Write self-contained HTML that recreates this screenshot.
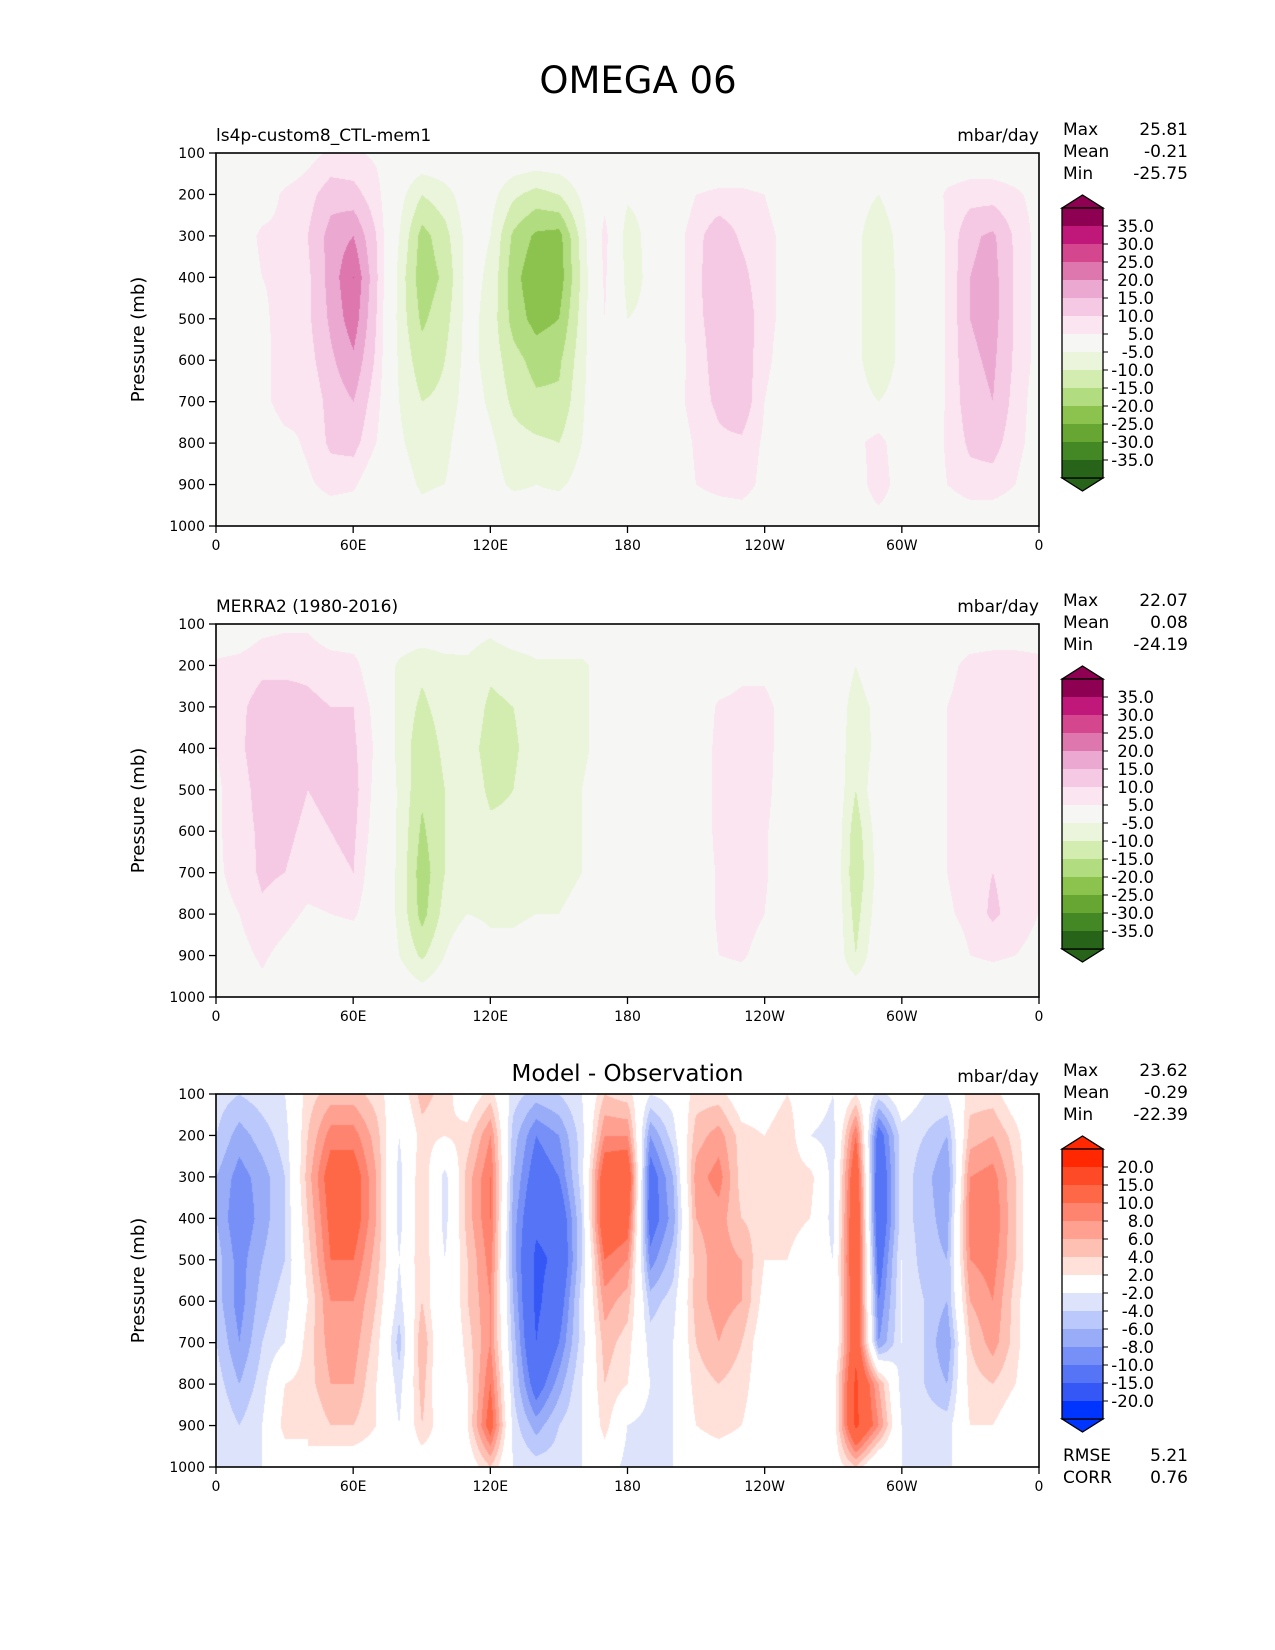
<!DOCTYPE html>
<html><head><meta charset="utf-8"><style>
html,body{margin:0;padding:0;background:#fff;}
#wrap{position:relative;width:1275px;height:1650px;overflow:hidden;}
canvas{position:absolute;}
svg{position:absolute;left:0;top:0;}
text{font-family:"DejaVu Sans","Liberation Sans",sans-serif;fill:#000;}
</style></head><body>
<div id="wrap">
<canvas id="c0" width="823" height="373" style="left:216px;top:153px"></canvas>
<canvas id="c1" width="823" height="373" style="left:216px;top:624px"></canvas>
<canvas id="c2" width="823" height="373" style="left:216px;top:1094px"></canvas>
<svg id="s" width="1275" height="1650">
<text x="638" y="93" font-size="37" text-anchor="middle">OMEGA 06</text>
</svg>
</div>
<script>
const pressures=[100,200,300,400,500,600,700,800,900,1000];
const lonTicks=["0","60E","120E","180","120W","60W","0"];
const presTicks=[100,200,300,400,500,600,700,800,900,1000];
const levelsAbs=[35,30,25,20,15,10,5,-5,-10,-15,-20,-25,-30,-35];
const levelsDiff=[20,15,10,8,6,4,2,-2,-4,-6,-8,-10,-15,-20];
const colorsAbs=['#8e0152','#c0187a','#d4478f','#de77ae','#eba9d2','#f5c9e3','#fae5f0','#f6f6f4','#eaf5dc','#d3edb0','#b2dc80','#8bc34e','#68a633','#448826','#276419'];
const colorsDiff=['#ff2800','#ff4a28','#ff6847','#ff8470','#ffa090','#ffc0b4','#ffe1da','#ffffff','#dde3fb','#bac8fb','#98acf8','#7690f7','#5574f6','#3457f6','#0035ff'];
const statsModel=[["Max","25.81"],["Mean","-0.21"],["Min","-25.75"]];
const statsObs=[["Max","22.07"],["Mean","0.08"],["Min","-24.19"]];
const statsDiff=[["Max","23.62"],["Mean","-0.29"],["Min","-22.39"]];
const metricsDiff=[["RMSE","5.21"],["CORR","0.76"]];
const model=[
[0,0,0,0,3,6,6,4,0,0,0,0,0,0,0,0,0,0,0,0,0,0,0,0,0,0,0,0,0,0,0,0,0,0,0,0,0],
[0,0,2,6,8,13,12,7,-3,-10,-7,-2,-3,-9,-12,-10,-4,3,-4,-3,0,5,6,6,5,3,0,-3,-2,-5,0,0,6,8,8,6,3],
[0,2,6,6,10,17,20,10,-5,-17,-12,-3,-5,-16,-21,-22,-8,7,-8,-3,2,8,14,9,6,4,0,-4,-3,-10,-2,-3,6,14,16,9,3],
[0,2,5,6,9,17,25,11,-7,-18,-14,-3,-6,-18,-24,-23,-9,6,-7,-4,1,9,13,12,6,4,0,-3,-3,-10,-3,-3,6,15,17,9,3],
[0,2,4,7,9,16,23,10,-7,-16,-12,-3,-7,-17,-22,-20,-8,5,-5,-4,1,9,12,15,6,4,0,-3,-3,-10,-3,-3,6,15,17,9,3],
[0,1,3,8,8,14,19,9,-6,-13,-10,-3,-7,-13,-17,-16,-7,3,-3,-4,1,8,12,14,6,3,0,-2,-3,-10,-3,-4,6,14,16,9,3],
[0,-3,3,8,6,12,15,7,-5,-10,-9,-2,-6,-11,-14,-14,-6,2,0,0,2,8,11,14,5,2,0,2,-2,-5,-2,-3,6,13,15,8,2],
[0,0,0,3,6,11,12,5,-4,-8,-7,0,-4,-8,-9,-10,-5,1,0,0,0,6,9,9,4,0,0,3,3,8,-1,-1,6,11,12,7,2],
[0,0,0,2,4,7,6,0,-2,-6,-5,0,-3,-6,-5,-6,-3,0,0,0,0,5,7,8,3,0,0,0,0,10,0,0,5,8,8,5,0],
[0,0,0,-3,0,0,0,0,0,-2,0,0,0,0,-2,0,0,0,0,0,0,0,0,0,0,0,0,0,0,0,0,0,0,0,0,0,0]];
const obs=[
[0,0,3,4,4,0,0,0,0,0,0,-2,-3,0,0,0,0,0,0,0,0,0,0,0,0,0,0,0,0,0,0,0,0,0,0,0,0],
[6,7,9,9,9,8,7,0,-6,-9,-7,-6,-9,-8,-6,-6,-6,-3,0,0,0,0,0,3,3,0,0,0,-5,0,0,0,3,7,8,8,7],
[6,9,12,12,11,10,10,3,-7,-11,-8,-7,-11,-10,-7,-7,-6,-3,0,0,0,0,6,7,7,2,0,0,-8,-3,0,0,5,8,8,8,7],
[5,9,13,12,11,11,11,4,-7,-13,-9,-8,-12,-11,-7,-7,-6,-3,0,0,0,0,7,9,7,2,0,0,-9,-3,0,0,5,8,8,8,7],
[4,8,12,12,10,11,12,3,-6,-14,-10,-7,-11,-10,-6,-6,-5,-2,0,0,0,0,7,10,7,1,0,0,-10,0,5,0,5,8,9,8,6],
[4,8,11,11,9,10,11,2,-6,-16,-10,-6,-9,-9,-6,-6,-5,-2,0,0,0,0,7,10,6,0,0,0,-13,-2,0,0,5,8,9,8,6],
[4,7,11,10,8,9,10,0,-6,-18,-10,-6,-7,-7,-6,-6,-5,-2,0,0,0,0,6,9,6,0,0,0,-14,-3,0,0,5,8,10,8,6],
[3,5,9,7,4,5,6,0,-6,-17,-8,-5,-6,-6,-5,-5,-4,-1,0,0,0,0,6,8,5,0,0,0,-12,-2,0,0,4,7,11,8,5],
[0,3,6,3,0,0,0,0,-5,-11,-5,0,-3,-3,-2,0,0,0,0,0,0,0,5,6,2,0,0,0,-10,0,0,0,0,5,6,5,3],
[0,0,3,0,0,0,0,0,0,-2,0,0,0,0,0,0,0,0,0,0,0,0,0,0,0,0,0,0,0,0,0,0,0,0,0,0,0]];
const diff=[
[-3,-4,-3,-2,3,5,5,3,0,5,3,0,3,-3,-5,-4,-2,4,3,-2,-1,3,3,0,0,2,0,-2,2,-3,0,-2,-2,3,3,0,-2],
[-4,-7,-5,-3,4,9,9,5,-2,3,2,3,8,-5,-10,-8,-3,8,8,-8,-3,5,7,3,2,4,-2,-3,10,-12,-3,-4,-6,5,6,3,-2],
[-6,-9,-7,-4,5,12,12,6,-3,4,-3,5,10,-6,-12,-10,-3,13,14,-12,-6,7,9,3,2,4,3,-3,14,-14,-3,-5,-8,8,9,4,-2],
[-6,-10,-7,-4,4,11,12,6,-3,4,-3,5,10,-7,-14,-13,-4,14,12,-12,-7,6,7,4,3,3,2,-3,15,-14,-3,-5,-7,9,10,4,-2],
[-5,-9,-6,-4,3,10,10,5,-2,4,-2,4,9,-7,-16,-14,-4,10,8,-9,-5,5,7,6,2,2,0,-2,15,-12,-2,-5,-6,8,9,4,-2],
[-5,-9,-5,-3,2,8,8,4,-3,4,-2,4,8,-6,-16,-12,-3,7,5,-5,-3,5,7,6,1,0,0,-2,14,-10,-2,-4,-6,6,8,3,-2],
[-4,-8,-4,-2,3,7,7,3,-5,6,-2,3,8,-5,-15,-10,-3,5,3,-3,-2,4,6,4,0,0,0,-2,14,-8,-2,-4,-8,4,7,3,-2],
[-3,-6,-3,2,3,6,6,2,-3,5,-2,2,10,-4,-12,-7,-2,4,2,-2,-2,3,4,3,0,0,0,0,16,6,-3,-4,-6,3,4,2,-2],
[-2,-4,-2,3,2,4,4,2,-2,4,0,2,12,-3,-7,-4,-2,3,-2,-3,-2,2,3,2,0,-2,0,0,16,8,-2,-3,-3,2,2,0,-2],
[-2,-3,-2,0,2,0,0,0,0,0,0,0,4,-2,-3,-3,-2,0,-3,-3,-2,0,0,0,0,-2,0,0,4,-2,-2,-2,-2,-2,-2,-2,-2]];

const PX=216,PW=823,PH=373;
const tops=[153,624,1094];
function lonToX(lon){return lon/360*PW;}
function presToY(p){return (p-100)/900*PH;}
function colorIdx(v,levels){let k=0;for(const l of levels){if(v<l)k++;}return k;}
function hex(c){return [parseInt(c.substr(1,2),16),parseInt(c.substr(3,2),16),parseInt(c.substr(5,2),16)];}
function drawField(cid,field,levels,colors){
  const cv=document.getElementById(cid),ctx=cv.getContext('2d');
  const img=ctx.createImageData(PW,PH);const rgb=colors.map(hex);
  const nC=field[0].length-1,nR=field.length-1;
  for(let y=0;y<PH;y++){
    const fy=y/(PH-1)*nR;const r0=Math.min(Math.floor(fy),nR-1);const ty=fy-r0;
    for(let x=0;x<PW;x++){
      const fx=x/(PW-1)*nC;const c0=Math.min(Math.floor(fx),nC-1);const tx=fx-c0;
      const v=(field[r0][c0]*(1-tx)+field[r0][c0+1]*tx)*(1-ty)+(field[r0+1][c0]*(1-tx)+field[r0+1][c0+1]*tx)*ty;
      const c=rgb[colorIdx(v,levels)];const i=(y*PW+x)*4;
      img.data[i]=c[0];img.data[i+1]=c[1];img.data[i+2]=c[2];img.data[i+3]=255;
    }
  }
  ctx.putImageData(img,0,0);
}
drawField('c0',model,levelsAbs,colorsAbs);
drawField('c1',obs,levelsAbs,colorsAbs);
drawField('c2',diff,levelsDiff,colorsDiff);

const svg=document.getElementById('s');const NS='http://www.w3.org/2000/svg';
function el(tag,attrs,txt){const e=document.createElementNS(NS,tag);for(const k in attrs)e.setAttribute(k,attrs[k]);if(txt!==undefined)e.textContent=txt;svg.appendChild(e);return e;}
const titles=["ls4p-custom8_CTL-mem1","MERRA2 (1980-2016)","Model - Observation"];
const statsAll=[statsModel,statsObs,statsDiff];
const levAll=[levelsAbs,levelsAbs,levelsDiff];
const colAll=[colorsAbs,colorsAbs,colorsDiff];
for(let p=0;p<3;p++){
  const T=tops[p];
  const fr=el('rect',{x:PX,y:T,width:PW,height:PH,fill:'none',stroke:'#000','stroke-width':1.6});
  
  
  presTicks.forEach(pr=>{const y=T+presToY(pr);
    const tk=el('line',{x1:PX-7,x2:PX,y1:y,y2:y,stroke:'#000','stroke-width':1.3});
    
    
    const t=el('text',{x:PX-11,y:y+5,'font-size':14,'text-anchor':'end'},String(pr));
    
    });
  lonTicks.forEach((lb,k)=>{const x=PX+lonToX(k*60);
    const tk=el('line',{x1:x,x2:x,y1:T+PH,y2:T+PH+7,stroke:'#000','stroke-width':1.3});
    
    
    const t=el('text',{x:x,y:T+PH+24,'font-size':14,'text-anchor':'middle'},lb);
    
    });
  const yt=el('text',{x:0,y:0,'font-size':18,'text-anchor':'middle',transform:`translate(144,${T+PH/2}) rotate(-90)`},'Pressure (mb)');
  
  
  const tt=p<2?el('text',{x:PX,y:T-12,'font-size':17},titles[p]):el('text',{x:PX+PW/2,y:T-13,'font-size':23,'text-anchor':'middle'},titles[p]);
  
  
  const un=el('text',{x:PX+PW,y:T-12,'font-size':17,'text-anchor':'end'},'mbar/day');
  
  
  statsAll[p].forEach((s,k)=>{const y=T-18+22*k;
    const a=el('text',{x:1063,y:y,'font-size':17},s[0]);
    
    
    const b=el('text',{x:1188,y:y,'font-size':17,'text-anchor':'end'},s[1]);
    
    });
  const cx=1062,cw=41,ry=T+55,bh=18,cols=colAll[p],lev=levAll[p];
  const up=el('polygon',{points:`${cx},${ry} ${cx+cw/2},${ry-13} ${cx+cw},${ry}`,fill:cols[0],stroke:'#000','stroke-width':1.3});
  
  
  const n=cols.length;
  const dn=el('polygon',{points:`${cx},${ry+n*bh} ${cx+cw/2},${ry+n*bh+13} ${cx+cw},${ry+n*bh}`,fill:cols[n-1],stroke:'#000','stroke-width':1.3});
  
  
  cols.forEach((c,k)=>{const r=el('rect',{x:cx,y:ry+k*bh,width:cw,height:bh+0.5,fill:c});
    
    });
  const cb=el('rect',{x:cx,y:ry,width:cw,height:n*bh,fill:'none',stroke:'#000','stroke-width':1.3});
  
  
  lev.forEach((l,k)=>{const y=ry+(k+1)*bh;
    const tk=el('line',{x1:cx+cw,x2:cx+cw+5,y1:y,y2:y,stroke:'#000','stroke-width':1});
    
    
    const t=el('text',{x:1154,y:y+6,'font-size':16.5,'text-anchor':'end'},l.toFixed(1));
    
    });
}
metricsDiff.forEach((m,k)=>{const y=tops[2]+367+22*k;
  const a=el('text',{x:1063,y:y,'font-size':17},m[0]);
  
  
  const b=el('text',{x:1188,y:y,'font-size':17,'text-anchor':'end'},m[1]);
  
  });
</script>
</body></html>
